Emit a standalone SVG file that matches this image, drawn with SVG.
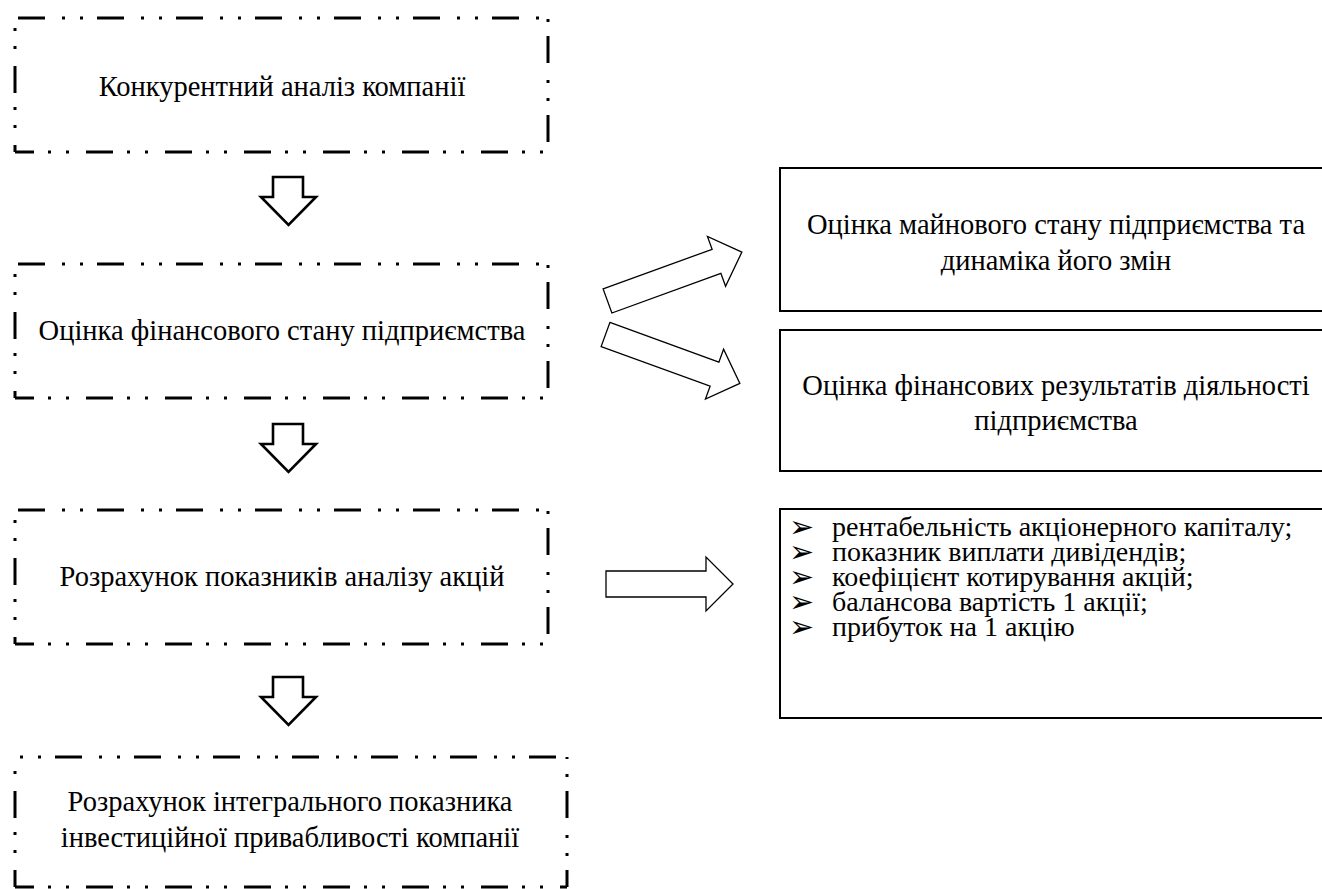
<svg xmlns="http://www.w3.org/2000/svg" width="1322" height="889" viewBox="0 0 1322 889">
<style>
.t{font-family:"Liberation Serif","Times New Roman",serif;font-size:28.5px;fill:#000}
.l{font-family:"Liberation Serif","Times New Roman",serif;font-size:28px;fill:#000}
.b{font-family:"DejaVu Sans",sans-serif;font-size:30px}
.dd{fill:none;stroke:#000;stroke-width:3;stroke-dasharray:27 17 3 15 3 14}
.sb{fill:#fff;stroke:#000;stroke-width:2}
.ar{fill:#fff;stroke:#000;stroke-width:1.3;stroke-linejoin:miter}
.da{fill:#fff;stroke:#000;stroke-width:2.6;stroke-linejoin:miter}
</style>
<defs>
<g id="dbox">
<path class="dd" d="M0,0 H533" stroke-dashoffset="76"/>
<path class="dd" d="M533,0 V134" stroke-dashoffset="61"/>
<path class="dd" d="M533,134 H0" stroke-dashoffset="39"/>
<path class="dd" d="M0,134 V0" stroke-dashoffset="20"/>
</g>
</defs>
<rect width="1322" height="889" fill="#fff"/>
<g id="n1">
<use href="#dbox" x="15" y="18"/>
<text class="t" x="282" y="96" text-anchor="middle">Конкурентний аналіз компанії</text>
</g>
<g id="n2">
<use href="#dbox" x="15" y="264"/>
<text class="t" x="282" y="340" text-anchor="middle">Оцінка фінансового стану підприємства</text>
</g>
<g id="n3">
<use href="#dbox" x="15" y="510"/>
<text class="t" x="282" y="586" text-anchor="middle">Розрахунок показників аналізу акцій</text>
</g>
<g id="n4">
<path class="dd" d="M15,757 H567" stroke-dashoffset="39"/>
<path class="dd" d="M567,757 V887" stroke-dashoffset="45"/>
<path class="dd" d="M567,887 H15" stroke-dashoffset="20"/>
<path class="dd" d="M15,887 V757" stroke-dashoffset="10"/>
<text class="t" x="290" y="811" text-anchor="middle">Розрахунок інтегрального показника</text>
<text class="t" x="290" y="847" text-anchor="middle">інвестиційної привабливості компанії</text>
</g>
<g id="nA">
<rect class="sb" x="780" y="168" width="553" height="143"/>
<text class="t" x="1056" y="234" text-anchor="middle">Оцінка майнового стану підприємства та</text>
<text class="t" x="1056" y="270" text-anchor="middle">динаміка його змін</text>
</g>
<g id="nB">
<rect class="sb" x="780" y="330" width="553" height="141"/>
<text class="t" x="1056" y="395" text-anchor="middle">Оцінка фінансових результатів діяльності</text>
<text class="t" x="1056" y="430" text-anchor="middle">підприємства</text>
</g>
<g id="nC">
<rect class="sb" x="780" y="509" width="553" height="209"/>
<g class="l">
<text x="789" y="536"><tspan class="b" dy="1">➢</tspan><tspan x="832" dy="-1">рентабельність акціонерного капіталу;</tspan></text>
<text x="789" y="561"><tspan class="b" dy="1">➢</tspan><tspan x="832" dy="-1">показник виплати дивідендів;</tspan></text>
<text x="789" y="586"><tspan class="b" dy="1">➢</tspan><tspan x="832" dy="-1">коефіцієнт котирування акцій;</tspan></text>
<text x="789" y="611"><tspan class="b" dy="1">➢</tspan><tspan x="832" dy="-1">балансова вартість 1 акції;</tspan></text>
<text x="789" y="636"><tspan class="b" dy="1">➢</tspan><tspan x="832" dy="-1">прибуток на 1 акцію</tspan></text>
</g>
</g>
<g id="connectors">
<path class="da" d="M273,177 H303 V197 H316 L288.5,225 L261,197 H273 Z"/>
<path class="da" d="M273,424 H303 V444 H316 L288.5,472 L261,444 H273 Z"/>
<path class="da" d="M273,677 H303 V697 H316 L288.5,725 L261,697 H273 Z"/>
<path class="ar" transform="translate(607.5,301) rotate(-20)" d="M0,-12.8 H116 V-26.5 L143,0 L116,26.5 V12.8 H0 Z"/>
<path class="ar" transform="translate(605.5,334.5) rotate(20)" d="M0,-12.8 H116 V-26.5 L143,0 L116,26.5 V12.8 H0 Z"/>
<path class="ar" d="M606,571 H706 V557 L733,584 L706,611 V597 H606 Z"/>
</g>
</svg>
